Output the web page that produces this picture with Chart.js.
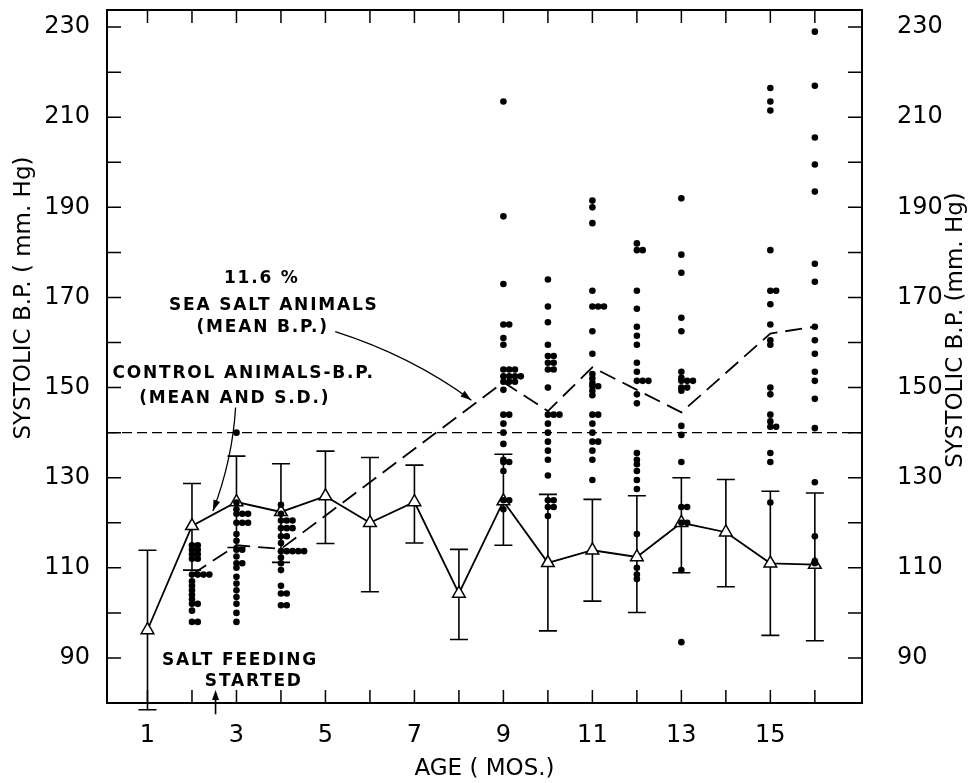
<!DOCTYPE html>
<html><head><meta charset="utf-8">
<script src="https://cdn.jsdelivr.net/npm/chart.js@4.4.0/dist/chart.umd.min.js"></script>
<style>html,body{margin:0;padding:0;background:#fff}#wrap{width:972px;height:783px}</style>
</head><body><div id="wrap"><canvas id="c" width="972" height="783"></canvas></div>
<script>
// ---- data ----
const months = [1,2,3,4,5,6,7,8,9,10,11,12,13,14,15,16];
const controlMean   = [96.2,119.3,124.6,122.4,125.9,120.0,124.6,104.3,124.8,111.1,113.9,112.4,120.0,117.9,111.0,110.7];
const controlSDHigh = [113.9,128.7,134.8,133.1,135.9,134.5,132.8,114.1,135.2,126.3,125.2,126.0,130.0,129.6,127.0,126.6];
const controlSDLow  = [78.5,109.5,114.5,111.2,115.4,104.7,115.5,94.1,115.0,96.0,102.6,100.1,108.9,105.8,95.0,93.8];
const saltMonths = [2,3,4,9,10,11,12,13,15,16];
const saltMean   = [108.5,115.0,114.2,151.2,144.8,154.5,149.5,144.5,162.0,163.5];
const referenceLevel = 140;
const saltM2  = [115,115,114,114,113,113,112,112,108.5,108.5,108.5,108.5,107,106,105,104,103,102,102,100.5,98,98];
const saltM3  = [140,124.5,123,122,122,122,120,120,120,117.5,116,114,114,112.5,111,111,110,108,106.5,105,103.5,102,100,98];
const saltM4  = [124,122,120.5,120.5,120.5,118.8,118.8,118.8,117,117,115.5,113.7,113.7,113.7,113.7,113.7,112.3,111,109.5,106,104.3,104.3,101.7,101.7];
const saltM9  = [213.5,188,173,164,164,161,159.5,154,154,154,152.5,152.5,152.5,152.5,151.3,151.3,151.3,149.5,144,144,142,140,137.5,134,133.5,133.5,131.5,125,125,123];
const saltM10 = [174,168,164.5,159.5,157,157,155.5,155.5,154,154,150,144,144,144,142,140,138,136,134,130.5,125,125,123.5,123.5,121.5];
const saltM11 = [191.5,190,186.5,171.5,168,168,168,162.5,157.5,153,152,151,150.3,150.3,149.3,148.3,144,144,142,140,138,138,136,134,129.5];
const saltM12 = [182,180.5,180.5,171.5,167.5,163.5,161.5,159.5,155.5,153.5,151.5,151.5,151.5,148.5,146.5,135.5,134,133,131.5,129.5,127.5,117.5,110,108.5,107.5];
const saltM13 = [192,179.5,175.5,165.5,162.5,153.5,152.2,151.5,151.5,151.5,150,150,149.3,141.5,139.5,133.5,123.5,123.5,120,120,109.5,93.5];
const saltM15 = [216.5,213.5,211.5,180.5,171.5,171.5,168.5,164,160.5,159.5,150,148.5,144,142.5,141.3,141.3,135.5,133.5,124.5];
const saltM16 = [229,217,205.5,199.5,193.5,177.5,173.5,163.5,160.5,157.5,153.5,151.5,147.5,141,129,117,111.5,111];
const xTickLabels = [1,3,5,7,9,11,13,15];
const yTickLabels = [90,110,130,150,170,190,210,230];
// ---- end data ----

const dotGroups = [[2,saltM2],[3,saltM3],[4,saltM4],[9,saltM9],[10,saltM10],[11,saltM11],[12,saltM12],[13,saltM13],[15,saltM15],[16,saltM16]];
const dotPoints = [];
dotGroups.forEach(([m, arr]) => {
  const seen = {};
  arr.forEach(v => { const k = seen[v] || 0; seen[v] = k + 1; dotPoints.push({x: m + k * 0.13, y: v}); });
});

const X_MIN = 0.09, X_MAX = 17.06, Y_MIN = 80, Y_MAX = 233.8;
const FONT = "'DejaVu Sans', sans-serif";

function arrowHead(ctx, x, y, ang, len, hw) {
  ctx.save();
  ctx.translate(x, y); ctx.rotate(ang);
  ctx.beginPath(); ctx.moveTo(0, 0); ctx.lineTo(-len, -hw); ctx.lineTo(-len, hw); ctx.closePath();
  ctx.fillStyle = '#000'; ctx.fill();
  ctx.restore();
}

const framePlugin = {
  id: 'frame',
  beforeDatasetsDraw(chart) {
    const ctx = chart.ctx, xs = chart.scales.x, ys = chart.scales.y;
    ctx.save();
    ctx.strokeStyle = '#000'; ctx.lineWidth = 1.6;
    months.forEach((m, i) => {
      const px = xs.getPixelForValue(m);
      const hi = ys.getPixelForValue(controlSDHigh[i]);
      const lo = ys.getPixelForValue(controlSDLow[i]);
      ctx.beginPath();
      ctx.moveTo(px, hi); ctx.lineTo(px, lo);
      ctx.moveTo(px - 9, hi); ctx.lineTo(px + 9, hi);
      ctx.moveTo(px - 9, lo); ctx.lineTo(px + 9, lo);
      ctx.stroke();
    });
    ctx.restore();
  },
  afterDraw(chart) {
    const ctx = chart.ctx, a = chart.chartArea, xs = chart.scales.x, ys = chart.scales.y;
    ctx.save();
    ctx.strokeStyle = '#000'; ctx.lineWidth = 2;
    ctx.strokeRect(a.left, a.top, a.right - a.left, a.bottom - a.top);
    ctx.lineWidth = 1.5;
    ctx.beginPath();
    months.forEach(m => {
      const px = xs.getPixelForValue(m);
      ctx.moveTo(px, a.bottom); ctx.lineTo(px, a.bottom - 13);
      ctx.moveTo(px, a.top); ctx.lineTo(px, a.top + 13);
    });
    for (let v = 90; v <= 230; v += 10) {
      const py = ys.getPixelForValue(v);
      ctx.moveTo(a.left, py); ctx.lineTo(a.left + 14, py);
      ctx.moveTo(a.right, py); ctx.lineTo(a.right - 14, py);
    }
    ctx.stroke();

    // tick labels
    ctx.fillStyle = '#000';
    ctx.font = '24px ' + FONT;
    ctx.textBaseline = 'middle';
    ctx.textAlign = 'center';
    xTickLabels.forEach(v => ctx.fillText(String(v), xs.getPixelForValue(v), a.bottom + 33));
    ctx.textAlign = 'right';
    yTickLabels.forEach(v => ctx.fillText(String(v), a.left - 17, ys.getPixelForValue(v)));
    ctx.textAlign = 'left';
    yTickLabels.forEach(v => ctx.fillText(String(v), a.right + 35, ys.getPixelForValue(v)));

    // axis titles
    ctx.font = '23px ' + FONT;
    ctx.textAlign = 'center';
    ctx.save(); ctx.translate(24, 298); ctx.rotate(-Math.PI / 2);
    ctx.fillText('SYSTOLIC B.P. ( mm. Hg)', 0, 0); ctx.restore();
    ctx.save(); ctx.translate(956, 330); ctx.rotate(-Math.PI / 2);
    ctx.fillText('SYSTOLIC B.P. (mm. Hg)', 0, 0); ctx.restore();
    ctx.fillText('AGE ( MOS.)', (a.left + a.right) / 2, 769);

    // annotations
    ctx.font = 'bold 17px ' + FONT;
    ctx.letterSpacing = '1.8px';
    const T = (s, m, v) => ctx.fillText(s, xs.getPixelForValue(m), ys.getPixelForValue(v));
    T('11.6 %', 3.57, 174.3);
    T('SEA SALT ANIMALS', 3.84, 168.3);
    T('(MEAN B.P.)', 3.59, 163.4);
    T('CONTROL ANIMALS-B.P.', 3.16, 153.2);
    T('(MEAN AND S.D.)', 2.96, 147.6);
    T('SALT FEEDING', 3.08, 89.5);
    T('STARTED', 3.39, 84.8);

    ctx.lineWidth = 1.3;
    // arrow to salt mean
    let x0 = xs.getPixelForValue(5.22), y0 = ys.getPixelForValue(162.4);
    let x1 = xs.getPixelForValue(8.28), y1 = ys.getPixelForValue(147.2);
    let cx = (x0 + x1) / 2 + 8, cy = (y0 + y1) / 2 - 10;
    ctx.beginPath(); ctx.moveTo(x0, y0); ctx.quadraticCurveTo(cx, cy, x1, y1); ctx.stroke();
    arrowHead(ctx, x1, y1, Math.atan2(y1 - cy, x1 - cx), 11, 3.5);
    // arrow to control mean
    x0 = xs.getPixelForValue(2.98); y0 = ys.getPixelForValue(145.6);
    x1 = xs.getPixelForValue(2.47); y1 = ys.getPixelForValue(122.6);
    cx = x0 - 3; cy = (y0 + y1) / 2;
    ctx.beginPath(); ctx.moveTo(x0, y0); ctx.quadraticCurveTo(cx, cy, x1, y1); ctx.stroke();
    arrowHead(ctx, x1, y1, Math.atan2(y1 - cy, x1 - cx), 11, 3.5);
    // salt feeding started arrow
    x0 = xs.getPixelForValue(2.53); y0 = ys.getPixelForValue(77.5);
    y1 = ys.getPixelForValue(82.9);
    ctx.lineWidth = 1.6;
    ctx.beginPath(); ctx.moveTo(x0, y0); ctx.lineTo(x0, y1 + 6); ctx.stroke();
    arrowHead(ctx, x0, y1, -Math.PI / 2, 10, 3.5);
    ctx.restore();
  }
};

const chart = new Chart(document.getElementById('c'), {
  type: 'scatter',
  data: {
    datasets: [
      { label: 'dots', data: dotPoints, showLine: false, pointRadius: 3.3, pointBackgroundColor: '#000', pointBorderWidth: 0, order: 0 },
      { label: 'control', data: months.map((m, i) => ({x: m, y: controlMean[i]})), showLine: true,
        borderColor: '#000', borderWidth: 1.8, pointStyle: 'triangle', pointRadius: 7.3,
        pointBackgroundColor: '#fff', pointBorderColor: '#000', pointBorderWidth: 1.5, order: 1, clip: false },
      { label: 'salt', data: saltMonths.map((m, i) => ({x: m, y: saltMean[i]})), showLine: true,
        borderColor: '#000', borderWidth: 1.8, borderDash: [17, 8], pointRadius: 0, order: 2 },
      { label: 'ref', data: [{x: X_MIN, y: referenceLevel}, {x: X_MAX, y: referenceLevel}], showLine: true,
        borderColor: '#000', borderWidth: 1.4, borderDash: [10, 5], pointRadius: 0, order: 3 }
    ]
  },
  options: {
    responsive: false, maintainAspectRatio: false, animation: false, devicePixelRatio: 1,
    layout: { autoPadding: false, padding: { top: 10, left: 0, right: 0, bottom: 0 } },
    plugins: { legend: { display: false }, tooltip: { enabled: false }, title: { display: false } },
    scales: {
      x: { type: 'linear', position: 'bottom', min: X_MIN, max: X_MAX,
        grid: { display: false }, border: { display: false },
        ticks: { display: false, stepSize: 1, includeBounds: false },
        afterFit: s => { s.height = 80; } },
      y: { type: 'linear', position: 'left', min: Y_MIN, max: Y_MAX,
        grid: { display: false }, border: { display: false },
        ticks: { display: false, stepSize: 10, includeBounds: false },
        afterFit: s => { s.width = 107; } },
      y2: { type: 'linear', position: 'right', min: Y_MIN, max: Y_MAX,
        grid: { display: false }, border: { display: false },
        ticks: { display: false, stepSize: 10, includeBounds: false },
        afterFit: s => { s.width = 110; } }
    }
  },
  plugins: [framePlugin]
});
</script></body></html>
